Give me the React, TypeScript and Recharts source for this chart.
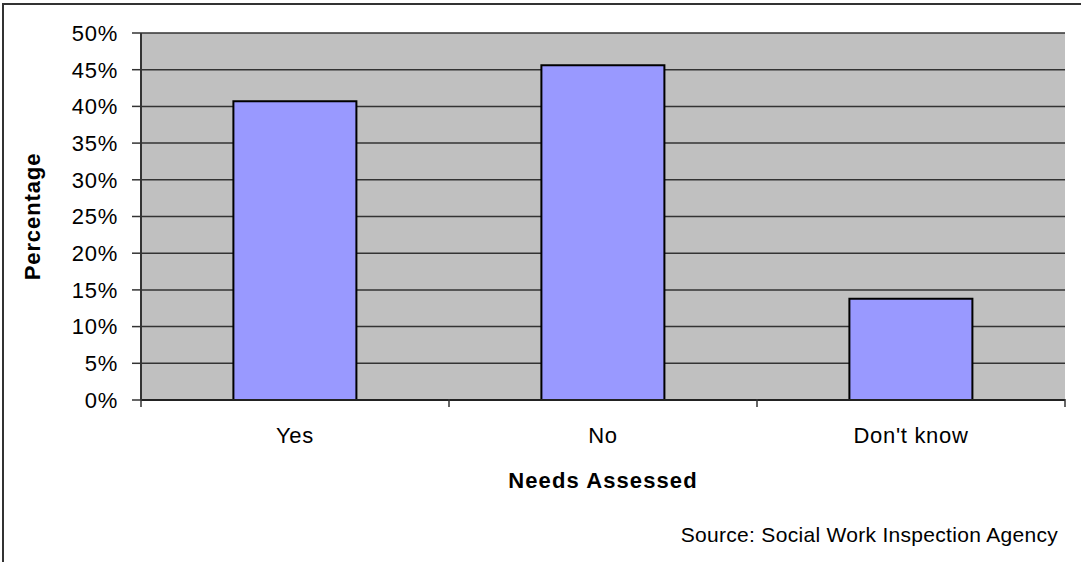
import { BarChart, Bar, XAxis, YAxis, CartesianGrid } from 'recharts'

const categories = ['Yes', 'No', "Don't know"]
const percentages = [40.7, 45.6, 13.8]
const yTicks = [0, 5, 10, 15, 20, 25, 30, 35, 40, 45, 50]

const data = categories.map((name, i) => ({ name, value: percentages[i] }))

const FONT = '"Liberation Sans", Arial, sans-serif'
const TICK_STYLE = { fontSize: 22, fill: '#000', fontFamily: FONT, letterSpacing: 0.7 }

// category label in the middle, tick marks on the band boundaries
function CategoryTick(props: any) {
  const { x, y, payload, index, visibleTicksCount } = props
  const half = payload.offset ?? 0
  const last = index === visibleTicksCount - 1
  return (
    <g>
      <line x1={x - half} x2={x - half} y1={y - 1} y2={y + 7} stroke="#333" strokeWidth={1.5} />
      {last && <line x1={x + half} x2={x + half} y1={y - 1} y2={y + 7} stroke="#333" strokeWidth={1.5} />}
      <text x={x} y={y + 43} textAnchor="middle" {...TICK_STYLE}>
        {payload.value}
      </text>
    </g>
  )
}

export default function App() {
  return (
    <div style={{ position: 'absolute', left: 0, top: 0, width: 1081, height: 562, background: '#fff', overflow: 'hidden', fontFamily: FONT }}>
      {/* outer frame, only top/left edges show */}
      <div style={{ position: 'absolute', left: 2, top: 3, width: 1200, height: 700, borderLeft: '2px solid #333', borderTop: '2px solid #333' }} />
      <BarChart
        width={1081}
        height={562}
        data={data}
        margin={{ top: 33, right: 16, left: 20, bottom: 62 }}
        barCategoryGap="30%"
        style={{ position: 'absolute', left: 0, top: 0 }}
      >
        <CartesianGrid vertical={false} stroke="#333" strokeWidth={1.5} fill="#C0C0C0" fillOpacity={1} />
        <XAxis
          dataKey="name"
          height={100}
          interval={0}
          tickSize={0}
          tickMargin={0}
          tickLine={false}
          axisLine={{ stroke: '#222', strokeWidth: 2 }}
          tick={<CategoryTick />}
          label={{ value: 'Needs Assessed', position: 'insideBottom', offset: 12, style: { fontSize: 22, fontWeight: 700, fill: '#000', fontFamily: FONT, letterSpacing: 1.1 } }}
        />
        <YAxis
          domain={[0, 50]}
          ticks={yTicks}
          interval={0}
          width={121}
          tickFormatter={(v: number) => `${v}%`}
          tickSize={9}
          tickMargin={14}
          axisLine={{ stroke: '#333', strokeWidth: 2 }}
          tickLine={{ stroke: '#333', strokeWidth: 1.5 }}
          tick={TICK_STYLE}
          label={{ value: 'Percentage', angle: -90, position: 'insideLeft', offset: 12, style: { textAnchor: 'middle', fontSize: 22, fontWeight: 700, fill: '#000', fontFamily: FONT, letterSpacing: 0.9 } }}
        />
        <YAxis
          yAxisId="frame"
          orientation="right"
          width={0}
          domain={[0, 50]}
          tick={false}
          tickLine={false}
          axisLine={{ stroke: '#888', strokeWidth: 3 }}
        />
        <Bar
          dataKey="value"
          fill="#9999FF"
          stroke="#000"
          strokeWidth={2}
          isAnimationActive={false}
        />
      </BarChart>
      <div style={{ position: 'absolute', right: 23, top: 523, fontSize: 21, letterSpacing: 0.3, color: '#000', whiteSpace: 'nowrap' }}>
        Source: Social Work Inspection Agency
      </div>
    </div>
  )
}
